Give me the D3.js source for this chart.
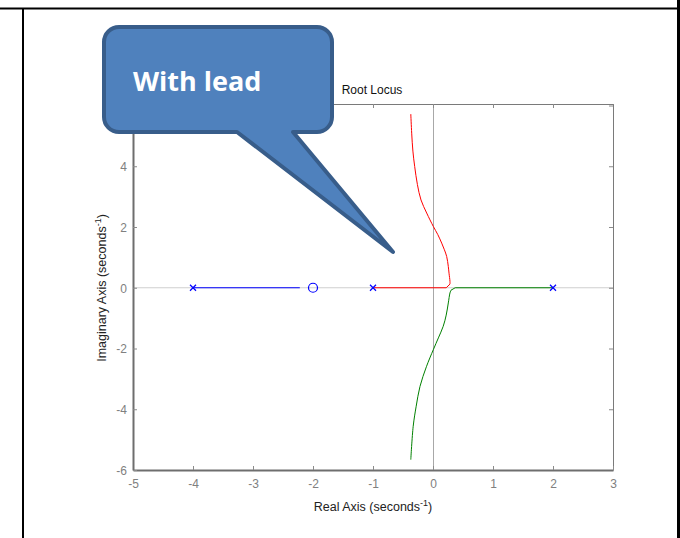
<!DOCTYPE html>
<html>
<head>
<meta charset="utf-8">
<script src="https://cdn.jsdelivr.net/npm/d3@7"></script>
<style>
  body { margin: 0; background: #fff; }
  svg { display: block; }
</style>
</head>
<body>
<svg id="chart" width="680" height="538"></svg>
<script>
// root locus data
var poles = [-4, -1, 2];
var zeros = [-2];
var blueBranch = [[-4, 0], [-2.22, 0]];
var redReal = [[-1, 0], [0.22, 0], [0.283, 0.12]];
var redBranch = [[0.283, 0.12], [0.283, 0.21], [0.267, 0.48], [0.255, 0.7], [0.228, 1.03],
    [0.19, 1.25], [0.145, 1.47], [0.08, 1.75], [0.005, 2.02], [-0.105, 2.46], [-0.2, 2.89],
    [-0.26, 3.4], [-0.305, 3.99], [-0.335, 4.5], [-0.355, 5.09], [-0.37, 5.72]];
var greenReal = [[2, 0], [0.37, 0], [0.3, -0.08]];
var greenBranch = [[0.3, -0.08], [0.283, -0.17], [0.255, -0.5], [0.22, -0.9],
    [0.17, -1.27], [0.09, -1.65], [0.005, -2.04], [-0.11, -2.6], [-0.217, -3.25], [-0.28, -3.9],
    [-0.33, -4.56], [-0.37, -5.66]];
var xTicks = [-5, -4, -3, -2, -1, 0, 1, 2, 3];
var yTicks = [-6, -4, -2, 0, 2, 4];

var svg = d3.select("#chart");
var font = "Liberation Sans, Arial, sans-serif";

// page frame lines
svg.append("line").attr("x1", 0).attr("x2", 678).attr("y1", 8.5).attr("y2", 8.5)
    .attr("stroke", "#000").attr("stroke-width", 2);
svg.append("line").attr("x1", 23).attr("x2", 23).attr("y1", 8).attr("y2", 538)
    .attr("stroke", "#000").attr("stroke-width", 2);
svg.append("line").attr("x1", 678.5).attr("x2", 678.5).attr("y1", 0).attr("y2", 538)
    .attr("stroke", "#000").attr("stroke-width", 3);

var x = d3.scaleLinear().domain([-5, 3]).range([133, 613]);
var y = d3.scaleLinear().domain([-6, 6.05]).range([470, 104]);
var fmt = function(d) { return String(d); };

var plot = svg.append("g");

// zero lines
plot.append("line").attr("x1", x(-5)).attr("x2", x(3)).attr("y1", y(0)).attr("y2", y(0))
    .attr("stroke", "#cfcfcf").attr("stroke-width", 1);
plot.append("line").attr("x1", x(0) + 0.5).attr("x2", x(0) + 0.5).attr("y1", y(6.05)).attr("y2", y(-6))
    .attr("stroke", "#a8a8a8").attr("stroke-width", 1);

// mirrored ticks on top and right (thin box edges)
var topAxis = plot.append("g").attr("transform", "translate(0," + y(6.05) + ")")
    .call(d3.axisTop(x).tickValues(xTicks).tickSizeInner(-4).tickSizeOuter(0).tickFormat(""));
var rightAxis = plot.append("g").attr("transform", "translate(" + x(3) + ",0)")
    .call(d3.axisRight(y).tickValues(yTicks.concat([6])).tickSizeInner(-4).tickSizeOuter(0).tickFormat(""));
topAxis.select(".domain").attr("stroke", "#7a7a7a").attr("stroke-width", 1);
rightAxis.select(".domain").attr("stroke", "#7a7a7a").attr("stroke-width", 1);

var xAxis = plot.append("g").attr("transform", "translate(0," + y(-6) + ")")
    .call(d3.axisBottom(x).tickValues(xTicks).tickFormat(fmt).tickSizeInner(-4).tickSizeOuter(0).tickPadding(9));
var yAxis = plot.append("g").attr("transform", "translate(" + x(-5) + ",0)")
    .call(d3.axisLeft(y).tickValues(yTicks).tickFormat(fmt).tickSizeInner(-4).tickSizeOuter(0).tickPadding(6));
xAxis.select(".domain").attr("stroke", "#6e6e6e").attr("stroke-width", 2);
yAxis.select(".domain").attr("stroke", "#6e6e6e").attr("stroke-width", 2);

plot.selectAll(".tick line").attr("stroke", "#8a8a8a");
plot.selectAll(".tick text").attr("fill", "#808080")
    .attr("font-family", font).attr("font-size", 12);
yAxis.selectAll(".tick text").attr("dy", "0.36em");

// loci
var line = d3.line().x(function(d) { return x(d[0]); }).y(function(d) { return y(d[1]); });
var curve = d3.line().curve(d3.curveCatmullRom)
    .x(function(d) { return x(d[0]); }).y(function(d) { return y(d[1]); });
plot.append("path").datum(blueBranch).attr("d", line).attr("fill", "none")
    .attr("stroke", "#0000ff").attr("stroke-width", 1);
plot.append("path").datum(redReal).attr("d", line).attr("fill", "none")
    .attr("stroke", "#ff0000").attr("stroke-width", 1);
plot.append("path").datum(redBranch).attr("d", curve).attr("fill", "none")
    .attr("stroke", "#ff0000").attr("stroke-width", 1);
plot.append("path").datum(greenReal).attr("d", line).attr("fill", "none")
    .attr("stroke", "#008000").attr("stroke-width", 1);
plot.append("path").datum(greenBranch).attr("d", curve).attr("fill", "none")
    .attr("stroke", "#008000").attr("stroke-width", 1);

// poles (x) and zeros (o)
plot.selectAll(".pole").data(poles).enter().append("path")
    .attr("class", "pole")
    .attr("transform", function(d) { return "translate(" + x(d) + "," + y(0) + ")"; })
    .attr("d", "M-3,-3L3,3M-3,3L3,-3")
    .attr("stroke", "#0000ff").attr("stroke-width", 1.2);
plot.selectAll(".zero").data(zeros).enter().append("circle")
    .attr("class", "zero")
    .attr("cx", function(d) { return x(d); }).attr("cy", y(0)).attr("r", 4.5)
    .attr("fill", "none").attr("stroke", "#0000ff").attr("stroke-width", 1.2);

// titles
svg.append("text").attr("x", 372).attr("y", 94).attr("text-anchor", "middle")
    .attr("font-family", font).attr("font-size", 12).attr("fill", "#111").text("Root Locus");

var xl = svg.append("text").attr("x", 373).attr("y", 511).attr("text-anchor", "middle")
    .attr("font-family", font).attr("font-size", 12.5).attr("fill", "#222");
xl.append("tspan").text("Real Axis (seconds");
xl.append("tspan").attr("font-size", 9).attr("dy", -5).text("-1");
xl.append("tspan").attr("dy", 5).text(")");

var yl = svg.append("text").attr("transform", "translate(106,288) rotate(-90)").attr("text-anchor", "middle")
    .attr("font-family", font).attr("font-size", 12.5).attr("fill", "#222");
yl.append("tspan").text("Imaginary Axis (seconds");
yl.append("tspan").attr("font-size", 9).attr("dy", -5).text("-1");
yl.append("tspan").attr("dy", 5).text(")");

// callout
var bx0 = 104, by0 = 27, bx1 = 332, by1 = 132, r = 15;
var tip = [393, 252];
var p = d3.path();
p.moveTo(bx0 + r, by0);
p.lineTo(bx1 - r, by0);
p.arcTo(bx1, by0, bx1, by0 + r, r);
p.lineTo(bx1, by1 - r);
p.arcTo(bx1, by1, bx1 - r, by1, r);
p.lineTo(293, by1);
p.lineTo(tip[0], tip[1]);
p.lineTo(237, by1);
p.lineTo(bx0 + r, by1);
p.arcTo(bx0, by1, bx0, by1 - r, r);
p.lineTo(bx0, by0 + r);
p.arcTo(bx0, by0, bx0 + r, by0, r);
p.closePath();
svg.append("path").attr("d", p.toString())
    .attr("fill", "#4f81bd").attr("stroke", "#385d8a").attr("stroke-width", 4)
    .attr("stroke-linejoin", "round");
svg.append("text").attr("x", 133).attr("y", 91)
    .attr("font-family", "Open Sans, sans-serif").attr("font-weight", "bold")
    .attr("font-size", 27).attr("fill", "#fff").text("With lead");
</script>
</body>
</html>
